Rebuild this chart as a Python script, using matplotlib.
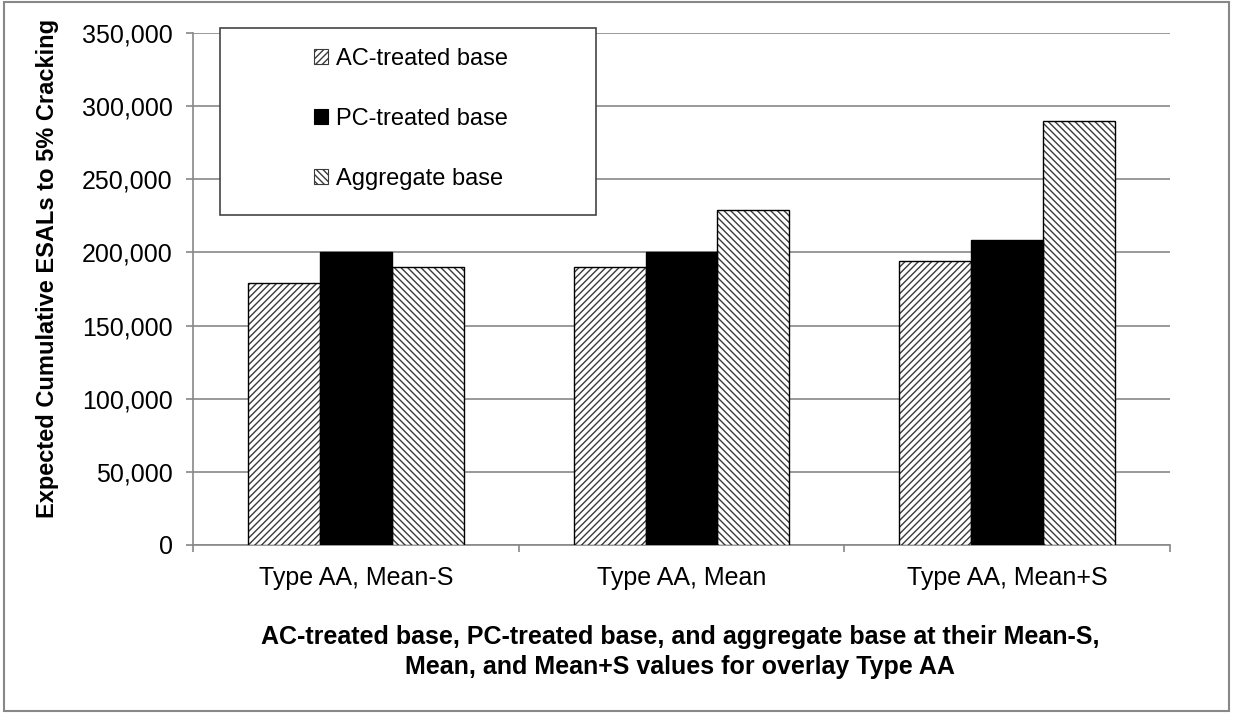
import matplotlib.pyplot as plt
import matplotlib as mpl
import numpy as np
from matplotlib.ticker import FuncFormatter, FixedLocator

plt.rcParams['font.family'] = ['Liberation Sans', 'DejaVu Sans']
plt.rcParams['hatch.linewidth'] = 1.0

categories = ["Type AA, Mean-S", "Type AA, Mean", "Type AA, Mean+S"]
series_names = ["AC-treated base", "PC-treated base", "Aggregate base"]
ac_values = [179000, 190000, 194000]
pc_values = [200000, 200000, 208500]
agg_values = [190000, 229000, 290000]
yticks = [0, 50000, 100000, 150000, 200000, 250000, 300000, 350000]

fig = plt.figure(figsize=(12.33, 7.13), dpi=100)
ax = fig.add_axes([193/1233, 1-545/713, (1170-193)/1233, (545-33)/713])

x = np.arange(len(categories))
w = 0.221
styles = [dict(facecolor='white', hatch='/////', edgecolor='#3a3a3a'),
          dict(facecolor='black', edgecolor='black'),
          dict(facecolor='white', hatch='\\\\\\\\\\', edgecolor='#3a3a3a')]
handles = []
for i, (vals, st) in enumerate(zip([ac_values, pc_values, agg_values], styles)):
    ax.bar(x + (i - 1) * w, vals, w, linewidth=0, zorder=3, **st)
    ax.bar(x + (i - 1) * w, vals, w, facecolor='none', edgecolor='black', linewidth=1.0, zorder=4)
    hp = mpl.patches.Patch(facecolor=st['facecolor'], hatch=st.get('hatch'),
                           edgecolor=st['edgecolor'], linewidth=0.8, label=series_names[i])
    handles.append(hp)

ax.set_xlim(-0.5, 2.5)
ax.set_ylim(0, 350000)
ax.yaxis.set_major_locator(FixedLocator(yticks))
ax.yaxis.set_major_formatter(FuncFormatter(lambda v, p: f"{int(v):,}"))
ax.grid(axis='y', color='#888888', linewidth=1.2, zorder=0)
ax.set_axisbelow(True)
ax.set_xticks(x)
ax.set_xticklabels(categories, fontsize=18)
ax.xaxis.set_minor_locator(FixedLocator([-0.5, 0.5, 1.5, 2.5]))
ax.tick_params(axis='x', which='major', length=0, pad=15)
ax.tick_params(axis='x', which='minor', length=5, color='#888888', width=1.2)
ax.tick_params(axis='y', length=5, color='#888888', width=1.2, labelsize=18, pad=9.5)
for s in ['top', 'right']:
    ax.spines[s].set_visible(False)
for s in ['left', 'bottom']:
    ax.spines[s].set_color('#888888')
    ax.spines[s].set_linewidth(1.2)

fig.text(48/1233, 1-268/713, "Expected Cumulative ESALs to 5% Cracking", rotation=90,
         ha='center', va='center', fontsize=17, fontweight='bold')
fig.text(680/1233, 1-652/713, "AC-treated base, PC-treated base, and aggregate base at their Mean-S,\nMean, and Mean+S values for overlay Type AA",
         ha='center', va='center', fontsize=18, fontweight='bold', linespacing=1.3)

# legend box
bx0, bx1, by0, by1 = 220, 596, 28, 215
def ax_x(px):
    return (px - 193) / 977
def ax_y(py):
    return (545 - py) / 512
rect = mpl.patches.Rectangle((ax_x(bx0), ax_y(by1)), ax_x(bx1) - ax_x(bx0), ax_y(by0) - ax_y(by1),
                             transform=ax.transAxes, facecolor='white', edgecolor='#444444',
                             linewidth=1.2, zorder=9, clip_on=False)
ax.add_patch(rect)
leg = ax.legend(handles=handles, loc='center', bbox_to_anchor=(ax_x(411), ax_y(119)), frameon=False,
                fontsize=17, handlelength=0.6, handleheight=0.6, labelspacing=1.6, handletextpad=0.35,
                borderaxespad=0, borderpad=0)
leg.set_zorder(10)

# figure border
fig.patches.append(mpl.patches.Rectangle((0.003, 0.003), 0.994, 0.994, transform=fig.transFigure,
                                         fill=False, edgecolor='#888888', linewidth=1.5))

fig.savefig("out.png", dpi=100)
